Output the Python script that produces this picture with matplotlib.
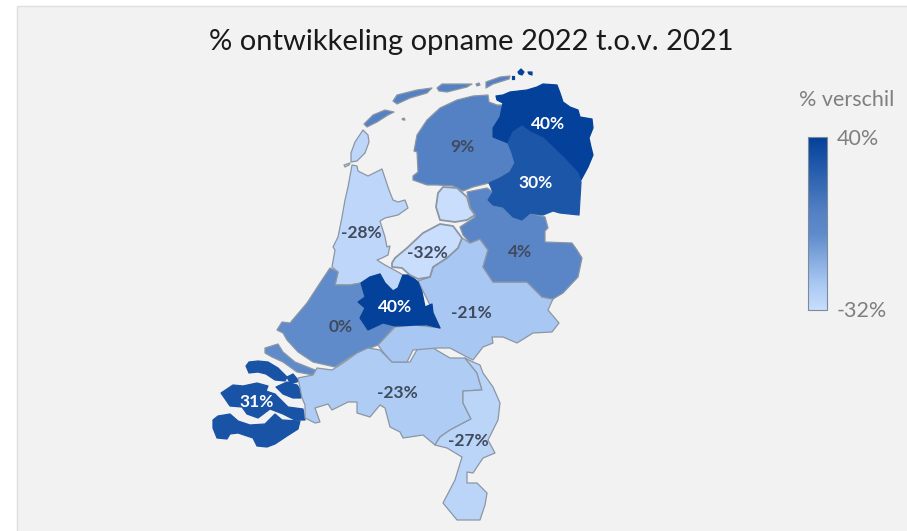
import numpy as np
import matplotlib
matplotlib.use('Agg')
from matplotlib import pyplot as plt
from matplotlib.colors import LinearSegmentedColormap, Normalize
from matplotlib.patches import Polygon, Rectangle

plt.rcParams['font.family'] = ['Lato', 'DejaVu Sans']

# province outlines, traced in screen coordinates of the map canvas
groningen = [(496,96),(503,95),(510,92),(527,90),(537,87),(543,84),(557,85),(560,93),(563,102),(570,107),(578,110),(580,117),(592,119),(593,128),(589,138),(591,147),(593,155),(588,167),(581,180),(578,173),(563,157),(543,138),(530,132),(522,126),(513,132),(508,143),(493,137),(493,128),(500,117),(503,103),(497,100)]
rottumeroog = [(518,72),(521,69),(524,72),(522,75),(519,74)]
rottumerplaat = [(528,72),(532,72),(532,75),(529,74)]
drenthe = [(522,126),(530,132),(543,138),(563,157),(578,173),(581,182),(579,215),(560,213),(553,211),(543,215),(530,213),(522,220),(513,217),(503,207),(493,205),(488,200),(493,192),(489,183),(500,178),(510,172),(515,163),(512,153),(508,143),(513,132)]
friesland = [(488,95),(489,102),(497,105),(503,105),(500,117),(493,128),(493,137),(508,143),(512,153),(516,163),(510,172),(500,178),(489,183),(473,187),(463,191),(453,186),(437,185),(427,185),(413,180),(413,176),(418,172),(417,152),(414,151),(417,135),(427,120),(440,108),(457,100),(473,96)]
vlieland = [(364,124),(373,115),(385,110),(394,112),(388,115),(377,122),(367,127)]
griend = [(402,119),(404,118),(405,120),(403,120)]
terschelling = [(393,101),(397,95),(417,90),(432,88),(427,93),(410,98),(397,104)]
ameland = [(437,88),(442,84),(458,84),(472,84),(467,87),(447,92),(439,91)]
engelsmanplaat = [(476,84),(479,83),(480,85),(477,86)]
schiermonnikoog = [(486,82),(500,77),(510,76),(509,79),(493,84),(486,88)]
simonszand = [(512,76),(514,76),(514,79),(512,79)]
overijssel = [(467,192),(487,188),(493,192),(488,200),(493,205),(503,207),(513,217),(522,220),(530,213),(545,217),(548,228),(545,231),(545,242),(572,243),(577,250),(582,258),(578,277),(563,293),(553,299),(542,297),(527,282),(493,282),(483,267),(488,250),(480,239),(470,243),(463,235),(460,227),(475,217),(470,207)]
gelderland = [(462,238),(470,243),(480,239),(488,250),(483,267),(493,282),(527,282),(542,297),(553,299),(548,310),(559,323),(552,332),(533,333),(517,343),(503,337),(492,337),(493,343),(483,347),(473,360),(467,357),(450,348),(437,348),(413,350),(407,362),(392,362),(383,352),(378,345),(395,327),(415,325),(440,328),(430,305),(418,281),(430,277),(433,267),(447,258),(458,248)]
utrecht = [(361,283),(370,277),(380,274),(385,283),(393,291),(398,288),(403,275),(410,275),(418,282),(422,292),(425,307),(432,304),(433,313),(440,328),(427,325),(417,325),(395,326),(383,323),(368,330),(360,318),(365,308),(358,302),(365,297)]
noord_holland = [(352,165),(357,166),(358,171),(368,176),(382,169),(385,178),(389,190),(393,200),(398,202),(405,200),(408,208),(398,215),(385,218),(380,221),(385,237),(387,247),(390,246),(388,255),(382,258),(377,260),(385,265),(398,272),(403,275),(398,288),(393,291),(385,283),(380,274),(370,277),(361,283),(350,285),(335,285),(338,272),(332,267),(335,250),(333,247),(338,237),(342,217),(345,200),(348,187)]
texel = [(363,130),(368,135),(369,142),(365,153),(357,161),(351,162),(351,153),(355,142)]
texel_tail = [(344,165),(350,163),(349,165),(345,167)]
noordoostpolder = [(443,187),(457,188),(467,197),(470,208),(475,215),(467,220),(455,222),(440,220),(436,207),(438,193)]
flevoland_zuid = [(392,263),(395,258),(407,248),(423,233),(440,224),(453,226),(462,238),(458,248),(447,258),(433,267),(430,277),(418,279),(410,275),(402,268),(392,267)]
zuid_holland = [(330,268),(338,272),(335,285),(350,285),(361,283),(365,297),(358,302),(365,308),(360,318),(368,330),(383,323),(395,326),(378,345),(365,350),(350,357),(335,367),(313,362),(298,352),(287,340),(283,333),(277,330),(282,322),(290,323),(307,303),(320,283)]
goeree = [(265,348),(278,344),(283,352),(295,362),(315,370),(317,373),(313,375),(297,372),(283,362),(272,357),(265,353)]
noord_brabant = [(298,378),(313,375),(317,368),(332,370),(343,363),(357,353),(368,348),(380,350),(392,362),(410,362),(418,348),(433,348),(450,358),(465,358),(477,373),(482,390),(463,391),(463,403),(471,419),(450,430),(440,437),(435,445),(423,435),(403,438),(400,432),(390,427),(385,408),(380,405),(370,417),(357,413),(357,402),(348,402),(332,410),(328,404),(315,408),(320,422),(315,423),(305,418),(305,405),(302,398),(300,388)]
limburg = [(465,358),(473,362),(480,365),(483,373),(493,387),(500,403),(498,420),(488,440),(495,453),(483,458),(473,473),(467,472),(467,483),(477,483),(487,493),(485,505),(480,520),(457,520),(443,503),(455,480),(462,457),(447,448),(435,445),(440,437),(450,430),(471,419),(463,403),(463,391),(482,390),(477,373)]
schouwen = [(246,366),(249,362),(258,361),(268,362),(278,368),(287,377),(285,381),(275,380),(266,374),(258,372),(249,373)]
sint_philipsland = [(287,377),(293,374),(298,380),(297,382),(290,383)]
tholen = [(276,387),(287,382),(297,385),(302,392),(301,398),(293,398),(283,394)]
beveland = [(221,393),(233,385),(243,386),(257,383),(268,386),(266,391),(275,394),(288,407),(303,409),(305,420),(295,420),(283,414),(270,409),(258,418),(247,414),(242,407),(230,406)]
zeeuws_vlaanderen = [(213,420),(218,416),(230,414),(238,421),(250,425),(265,424),(275,414),(282,420),(300,421),(298,429),(287,436),(275,444),(267,447),(257,446),(253,438),(238,433),(230,434),(227,439),(217,438),(213,428)]

# % change per province, drawn in this order
province_names = ['Noord-Holland', 'Zuid-Holland', 'Zeeland', 'Noord-Brabant', 'Limburg', 'Gelderland',
                  'Utrecht', 'Overijssel', 'Friesland', 'Groningen', 'Drenthe', 'Flevoland']
province_values = [-28, 0, 31, -23, -27, -21, 40, 4, 9, 40, 30, -32]
province_shapes = [
    [noord_holland, texel, texel_tail],
    [zuid_holland, goeree],
    [schouwen, sint_philipsland, tholen, beveland, zeeuws_vlaanderen],
    [noord_brabant],
    [limburg],
    [gelderland],
    [utrecht],
    [overijssel],
    [friesland, vlieland, griend, terschelling, ameland, engelsmanplaat, schiermonnikoog],
    [groningen, rottumeroog, rottumerplaat, simonszand],
    [drenthe],
    [noordoostpolder, flevoland_zuid],
]
label_x = [361, 341, 257, 397, 468, 471, 395, 520, 462, 548, 536, 427]
label_y = [233, 327, 402, 393, 441, 313, 307, 252, 147, 124, 183, 253]

vmin, vmax = min(province_values), max(province_values)
cmap = LinearSegmentedColormap.from_list('verschil', [
    (0.0, '#c8defc'),
    (0.15, '#a9c9f3'),
    (0.44, '#5f8bcb'),
    (0.56, '#5582c5'),
    (0.86, '#1c56a8'),
    (1.0, '#04419b'),
])
norm = Normalize(vmin, vmax)

fig = plt.figure(figsize=(9.07, 5.31), dpi=100, facecolor='white')
ax = fig.add_axes([0, 0, 1, 1])
ax.set_xlim(0, 907)
ax.set_ylim(531, 0)
ax.axis('off')
ax.add_patch(Rectangle((17, 6), 892, 527, facecolor='#f2f2f2', edgecolor='#dedede', linewidth=1, zorder=0))

for name, value, shapes in zip(province_names, province_values, province_shapes):
    color = cmap(norm(value))
    edge = '#8c96a3' if value < 30 else color
    lw = 1.3 if value == vmin else 0.9
    for shape in shapes:
        ax.add_patch(Polygon(shape, closed=True, facecolor=color, edgecolor=edge,
                             linewidth=lw, joinstyle='round', zorder=2, label=name))

for value, x, y in zip(province_values, label_x, label_y):
    txt_color = 'white' if value >= 30 else '#404a5c'
    ax.text(x, y, f'{value}%', color=txt_color, fontsize=12.5, fontweight='bold',
            ha='center', va='center', zorder=4)

ax.text(471, 42, '% ontwikkeling opname 2022 t.o.v. 2021', fontsize=21, color='#1a1a1a',
        ha='center', va='center')

# gradient legend
gradient = np.linspace(vmax, vmin, 256).reshape(-1, 1)
ax.imshow(gradient, cmap=cmap, norm=norm, extent=(808, 827, 310, 137), aspect='auto', zorder=2)
ax.add_patch(Rectangle((808, 137), 19, 173, facecolor='none', edgecolor='#7f8a99', linewidth=0.8, zorder=3))
ax.set_xlim(0, 907)
ax.set_ylim(531, 0)
ax.text(847, 100, '% verschil', fontsize=15.5, color='#7f7f7f', ha='center', va='center')
ax.text(837, 139, f'{vmax}%', fontsize=15.5, color='#7f7f7f', ha='left', va='center')
ax.text(837, 311, f'{vmin}%', fontsize=15.5, color='#7f7f7f', ha='left', va='center')

fig.savefig('out.png', dpi=100)
